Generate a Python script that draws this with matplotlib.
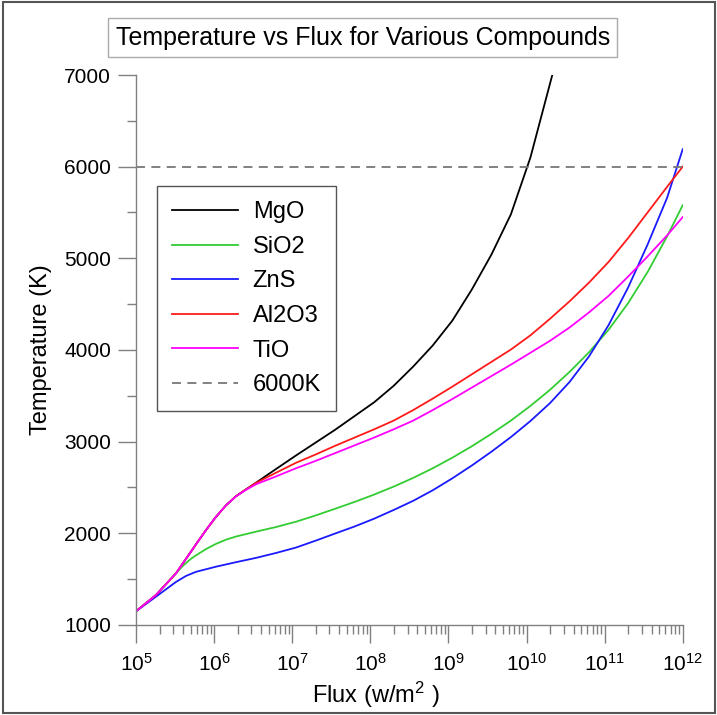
import matplotlib
matplotlib.use("Agg")
import matplotlib.pyplot as plt
from matplotlib.patches import Rectangle
from matplotlib.ticker import LogLocator, MultipleLocator

plt.rcParams['font.family'] = ['Liberation Sans', 'DejaVu Sans']
plt.rcParams['mathtext.fontset'] = 'custom'
plt.rcParams['mathtext.rm'] = 'Liberation Sans'
plt.rcParams['mathtext.it'] = 'Liberation Sans:italic'

# flux exponents (log10 of w/m^2) and temperatures (K)
exp_low = [5.0, 5.256, 5.512, 5.768, 5.9, 6.024, 6.152, 6.28, 6.41, 6.536, 6.79]
exp_high = [7.05, 7.3, 7.55, 7.8, 8.05, 8.3, 8.55, 8.8, 9.05, 9.3, 9.55, 9.8,
            10.05, 10.3, 10.55, 10.8, 11.05, 11.3, 11.55, 11.8, 12.0]

exp_mgo = exp_low + [7.05, 7.3, 7.55, 7.8, 8.05, 8.3, 8.55, 8.8, 9.05, 9.3, 9.55,
                     9.8, 10.05, 10.33]
t_mgo = [1150, 1327, 1564, 1880, 2040, 2180, 2305, 2405, 2480, 2552, 2700,
         2850, 2990, 3130, 3280, 3430, 3610, 3820, 4050, 4320, 4660, 5040,
         5480, 6100, 7000]

exp_sio2 = [5.0, 5.256, 5.512, 5.6, 5.7, 5.768, 5.9, 6.024, 6.15, 6.28, 6.536, 6.79] + exp_high
t_sio2 = [1150, 1327, 1564, 1645, 1720, 1760, 1830, 1885, 1930, 1965, 2018, 2068,
          2127, 2195, 2268, 2343, 2423, 2510, 2605, 2710, 2825, 2950, 3085, 3230,
          3390, 3565, 3760, 3975, 4220, 4510, 4850, 5240, 5580]

exp_zns = [5.0, 5.256, 5.512, 5.64, 5.768, 6.024, 6.28, 6.536, 6.79] + exp_high
t_zns = [1150, 1309, 1470, 1535, 1580, 1636, 1685, 1732, 1785,
         1845, 1920, 1998, 2075, 2160, 2255, 2355, 2470, 2600, 2740, 2890, 3050,
         3225, 3420, 3650, 3930, 4270, 4680, 5150, 5660, 6190]

exp_al2o3 = exp_low + exp_high
t_al2o3 = [1150, 1327, 1564, 1880, 2040, 2180, 2305, 2405, 2480, 2550, 2660,
           2770, 2860, 2955, 3045, 3135, 3230, 3345, 3470, 3600, 3735, 3870, 4005,
           4160, 4340, 4530, 4735, 4960, 5220, 5500, 5780, 6000]

exp_tio = exp_low + exp_high
t_tio = [1150, 1327, 1564, 1880, 2040, 2180, 2305, 2403, 2475, 2535, 2620,
         2710, 2790, 2875, 2960, 3045, 3135, 3230, 3345, 3465, 3590, 3715, 3840,
         3970, 4100, 4245, 4410, 4590, 4800, 5020, 5250, 5450]

limit_temp = 6000

series = [
    ('MgO', exp_mgo, t_mgo, 'black'),
    ('SiO2', exp_sio2, t_sio2, '#33cc33'),
    ('ZnS', exp_zns, t_zns, '#1a1aff'),
    ('Al2O3', exp_al2o3, t_al2o3, '#ff1a1a'),
    ('TiO', exp_tio, t_tio, '#ff00ff'),
]

fig = plt.figure(figsize=(7.17, 7.15), dpi=100)
ax = fig.add_axes([0.1897, 0.1259, 0.5467 / 0.717, 0.7692])

for name, ex, temps, col in series:
    ax.plot([10 ** e for e in ex], temps, color=col, lw=1.3, label=name)
ax.axhline(limit_temp, color='#777777', lw=1.3, ls=(0, (5, 3.5)), label='6000K')

ax.set_xscale('log')
ax.set_xlim(1e5, 1e12)
ax.set_ylim(1000, 7000)
ax.xaxis.set_major_locator(LogLocator(base=10, numticks=20))
ax.xaxis.set_minor_locator(LogLocator(base=10, subs=range(2, 10), numticks=20))
ax.yaxis.set_major_locator(MultipleLocator(1000))
ax.yaxis.set_minor_locator(MultipleLocator(500))

for side in ('top', 'right'):
    ax.spines[side].set_visible(False)
for side in ('left', 'bottom'):
    ax.spines[side].set_color('#808080')
    ax.spines[side].set_linewidth(1.0)

ax.tick_params(which='major', direction='out', length=13, width=1.0,
               color='#808080', labelsize=15, pad=5)
ax.tick_params(axis='x', which='major', pad=7)
ax.tick_params(which='minor', direction='out', length=6.5, width=1.0,
               color='#808080')

ax.set_xlabel('Flux (w/m$^2$ )', fontsize=17)
ax.set_ylabel('Temperature (K)', fontsize=17)
ax.xaxis.set_label_coords(0.439, -0.1)
ax.yaxis.set_label_coords(-0.1536, 0.5)

leg = ax.legend(loc='upper left', bbox_to_anchor=(0.0384, 0.798), borderaxespad=0,
                fontsize=17, handlelength=2.8, handletextpad=0.6,
                labelspacing=0.53, borderpad=0.65, fancybox=False,
                framealpha=1, edgecolor='#555555')
leg.get_frame().set_linewidth(1.0)

fig.text(0.506, 0.947, 'Temperature vs Flux for Various Compounds',
         fontsize=18, ha='center', va='center',
         bbox=dict(boxstyle='square,pad=0.3', fc='white', ec='#aaaaaa', lw=1.0))

fig.patches.append(Rectangle((0.004, 0.003), 0.993, 0.994, transform=fig.transFigure,
                             fill=False, ec='#555555', lw=1.5))

fig.savefig('out.png', dpi=100)
